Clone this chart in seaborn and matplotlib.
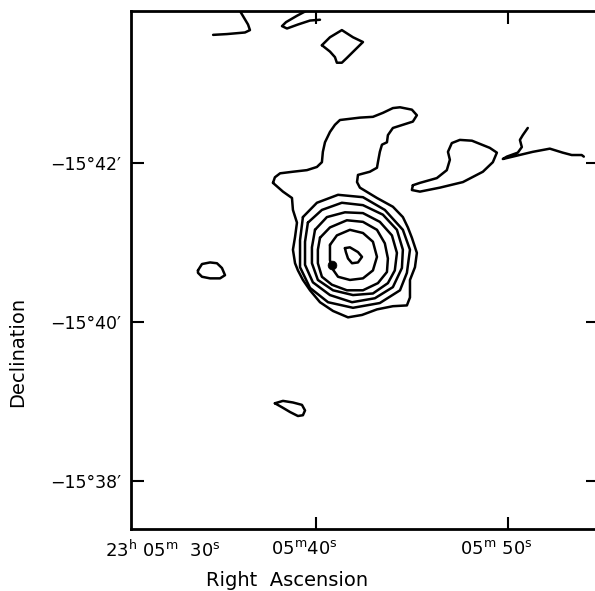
import matplotlib
matplotlib.use("Agg")
import matplotlib.pyplot as plt
import matplotlib.transforms as mtransforms
import numpy as np
import pandas as pd
import seaborn as sns

# ---- data: contour paths in (RA seconds past 23h05m, Dec arcmin past -15 deg) ----
outer_ra = [37.76, 38.28, 38.75, 38.80, 39.01, 38.91, 38.80, 38.91, 39.06, 39.32, 39.69, 40.21,
            40.89, 41.67, 42.40, 43.18, 44.01, 44.74, 44.90, 44.90, 45.16, 45.26, 45.00, 44.79,
            44.53, 44.01, 43.18, 42.29, 42.14, 42.19, 42.81, 43.18, 43.23, 43.33, 43.44, 43.70,
            43.75, 44.01, 44.53, 45.05, 45.26, 45.00, 44.38, 44.01, 43.49, 42.97, 42.29, 41.25,
            40.99, 40.73, 40.47, 40.36, 40.31, 40.05, 39.53, 38.80, 38.13, 37.86]
outer_dec = [41.75, 41.64, 41.56, 41.41, 41.25, 41.07, 40.91, 40.74, 40.65, 40.53, 40.40, 40.25,
             40.14, 40.06, 40.09, 40.16, 40.20, 40.21, 40.31, 40.53, 40.69, 40.87, 41.06, 41.19,
             41.32, 41.45, 41.56, 41.69, 41.76, 41.85, 41.89, 41.94, 42.01, 42.14, 42.23, 42.26,
             42.35, 42.44, 42.48, 42.52, 42.60, 42.67, 42.70, 42.69, 42.63, 42.58, 42.57, 42.54,
             42.48, 42.39, 42.26, 42.14, 42.01, 41.95, 41.91, 41.89, 41.87, 41.82]

ringA_ra = [39.32, 40.05, 41.15, 42.45, 43.59, 44.53, 44.90, 44.74, 44.38, 43.33, 41.93, 40.63, 39.69, 39.17, 39.17]
ringA_dec = [41.32, 41.50, 41.60, 41.57, 41.41, 41.16, 40.91, 40.62, 40.40, 40.24, 40.18, 40.25, 40.43, 40.69, 41.03]

ringB_ra = [39.58, 40.31, 41.35, 42.45, 43.49, 44.22, 44.53, 44.48, 44.01, 43.07, 41.88, 40.73, 39.84, 39.43, 39.43]
ringB_dec = [41.25, 41.41, 41.50, 41.47, 41.35, 41.16, 40.91, 40.68, 40.44, 40.30, 40.25, 40.34, 40.50, 40.72, 41.01]

ringC_ra = [39.95, 40.57, 41.51, 42.45, 43.33, 43.96, 44.22, 44.11, 43.75, 42.97, 41.93, 40.89, 40.10, 39.79, 39.79]
ringC_dec = [41.16, 41.32, 41.38, 41.37, 41.26, 41.09, 40.87, 40.65, 40.49, 40.36, 40.34, 40.40, 40.53, 40.74, 40.94]

ringD_ra = [40.21, 40.73, 41.61, 42.45, 43.18, 43.59, 43.75, 43.70, 43.23, 42.45, 41.61, 40.83, 40.31, 40.10, 40.10]
ringD_dec = [41.06, 41.19, 41.28, 41.26, 41.16, 40.99, 40.80, 40.63, 40.49, 40.40, 40.40, 40.47, 40.57, 40.74, 40.91]

ringE_ra = [40.73, 41.09, 41.77, 42.45, 42.97, 43.18, 42.97, 42.45, 41.77, 41.15, 40.83, 40.73]
ringE_dec = [40.97, 41.09, 41.16, 41.12, 41.01, 40.82, 40.65, 40.55, 40.53, 40.57, 40.68, 40.78]

peak_ra = [41.51, 41.77, 42.19, 42.40, 42.19, 41.88, 41.67, 41.56]
peak_dec = [40.93, 40.94, 40.88, 40.82, 40.75, 40.74, 40.80, 40.88]

east_ra = [45.05, 45.00, 45.42, 46.46, 47.66, 48.70, 49.22, 49.43, 49.06, 48.13, 47.50, 47.08, 46.88, 46.98, 46.82, 46.30, 45.42]
east_dec = [41.72, 41.66, 41.64, 41.69, 41.76, 41.89, 42.01, 42.13, 42.19, 42.28, 42.29, 42.25, 42.14, 42.04, 41.91, 41.81, 41.75]

diamond_ra = [40.31, 40.73, 41.35, 41.93, 42.45, 42.03, 41.61, 41.35, 41.09, 40.99, 40.73]
diamond_dec = [43.48, 43.58, 43.67, 43.58, 43.52, 43.42, 43.32, 43.26, 43.26, 43.33, 43.40]

oval_ra = [33.85, 34.06, 34.48, 34.84, 35.10, 35.26, 35.00, 34.48, 34.06, 33.85]
oval_dec = [40.65, 40.73, 40.75, 40.74, 40.68, 40.59, 40.55, 40.55, 40.57, 40.62]

south_ra = [37.86, 38.28, 38.80, 39.27, 39.43, 39.32, 39.06, 38.65, 38.23]
south_dec = [38.98, 39.01, 38.99, 38.96, 38.89, 38.83, 38.82, 38.87, 38.93]

# open (unclosed) contour fragments
ne_ra = [51.04, 50.78, 50.63, 50.73, 50.52, 49.95, 49.74, 50.26, 51.30, 52.19, 52.86, 53.33, 53.85, 53.96]
ne_dec = [42.44, 42.35, 42.29, 42.20, 42.13, 42.08, 42.05, 42.08, 42.14, 42.18, 42.13, 42.10, 42.10, 42.08]

nw_ra = [36.04, 36.46, 36.56, 36.30, 35.36, 34.64]
nw_dec = [43.91, 43.74, 43.67, 43.64, 43.62, 43.61]

nmid_ra = [39.48, 39.01, 38.44, 38.23, 38.49, 39.06, 39.69, 40.21]
nmid_dec = [43.91, 43.85, 43.77, 43.72, 43.69, 43.74, 43.79, 43.80]

star_ra = [40.83]
star_dec = [40.72]

x_ticks = [40, 50]
x_ticklabels = [r"05$^{\rm m}$40$^{\rm s}$", r"05$^{\rm m}$ 50$^{\rm s}$"]
x_first_label = r"23$^{\rm h}$ 05$^{\rm m}$  30$^{\rm s}$"
x_first_pos = 32.03
y_ticks = [38, 40, 42]
y_ticklabels = ["\u221215\u00b038\u2032", "\u221215\u00b040\u2032", "\u221215\u00b042\u2032"]

closed = {
    "outer": (outer_ra, outer_dec), "A": (ringA_ra, ringA_dec), "B": (ringB_ra, ringB_dec),
    "C": (ringC_ra, ringC_dec), "D": (ringD_ra, ringD_dec), "E": (ringE_ra, ringE_dec),
    "peak": (peak_ra, peak_dec), "east": (east_ra, east_dec), "diamond": (diamond_ra, diamond_dec),
    "oval": (oval_ra, oval_dec), "south": (south_ra, south_dec),
}
opened = {"ne": (ne_ra, ne_dec), "nw": (nw_ra, nw_dec), "nmid": (nmid_ra, nmid_dec)}

rows = []
for name, (r, d) in closed.items():
    rr = list(r) + [r[0]]
    dd = list(d) + [d[0]]
    for i, (a, b) in enumerate(zip(rr, dd)):
        rows.append((name, i, a, b))
for name, (r, d) in opened.items():
    for i, (a, b) in enumerate(zip(r, d)):
        rows.append((name, i, a, b))
df = pd.DataFrame(rows, columns=["path", "order", "ra", "dec"])

# ---- drawing ----
sns.set_theme(style="white")
plt.rcParams["font.family"] = ["DejaVu Sans"]
plt.rcParams["mathtext.fontset"] = "dejavusans"
plt.rcParams["text.color"] = "black"
plt.rcParams["xtick.color"] = "black"
plt.rcParams["ytick.color"] = "black"
plt.rcParams["xtick.labelcolor"] = "black"
plt.rcParams["ytick.labelcolor"] = "black"

fig = plt.figure(figsize=(5.95, 5.91), dpi=100)
ax = fig.add_axes([131 / 595, 62 / 591, 467 / 595, 518 / 591])

sns.lineplot(data=df, x="ra", y="dec", units="path", estimator=None, sort=False,
             color="black", linewidth=1.8, ax=ax, legend=False)
for line in ax.lines:
    line.set_solid_joinstyle("round")
    line.set_solid_capstyle("round")
sns.scatterplot(x=star_ra, y=star_dec, color="black", s=40, ax=ax, zorder=5, edgecolor="black")

ax.set_xlim(30.36, 54.7)
ax.set_ylim(37.40, 43.91)

for s in ax.spines.values():
    s.set_visible(True)
    s.set_color("black")
    s.set_linewidth(2.0)

ax.set_xticks(x_ticks)
ax.set_xticklabels(x_ticklabels, fontsize=13, color="black")
ax.set_yticks(y_ticks)
ax.set_yticklabels(y_ticklabels, fontsize=12.5, color="black")
ax.tick_params(axis="both", which="major", direction="in", length=9, width=1.5,
               top=True, right=True, bottom=True, left=True, color="black")
ax.tick_params(axis="x", pad=8)
ax.tick_params(axis="y", pad=7)

offset = mtransforms.ScaledTranslation(-11 / 100, 0, fig.dpi_scale_trans)
for lbl in ax.get_xticklabels():
    lbl.set_transform(lbl.get_transform() + offset)

trans = mtransforms.blended_transform_factory(ax.transData, ax.transAxes)
ax.text(x_first_pos, -0.021, x_first_label, transform=trans, ha="center", va="top",
        fontsize=13, color="black")

ax.set_xlabel("")
ax.set_ylabel("")
fig.text(287 / 595, 1 - 580 / 591, "Right  Ascension", ha="center", va="center",
         fontsize=14, color="black")
fig.text(18 / 595, 1 - 352 / 591, "Declination", ha="center", va="center", rotation=90,
         fontsize=14, color="black")

fig.savefig("out.png", dpi=100, facecolor="white")
